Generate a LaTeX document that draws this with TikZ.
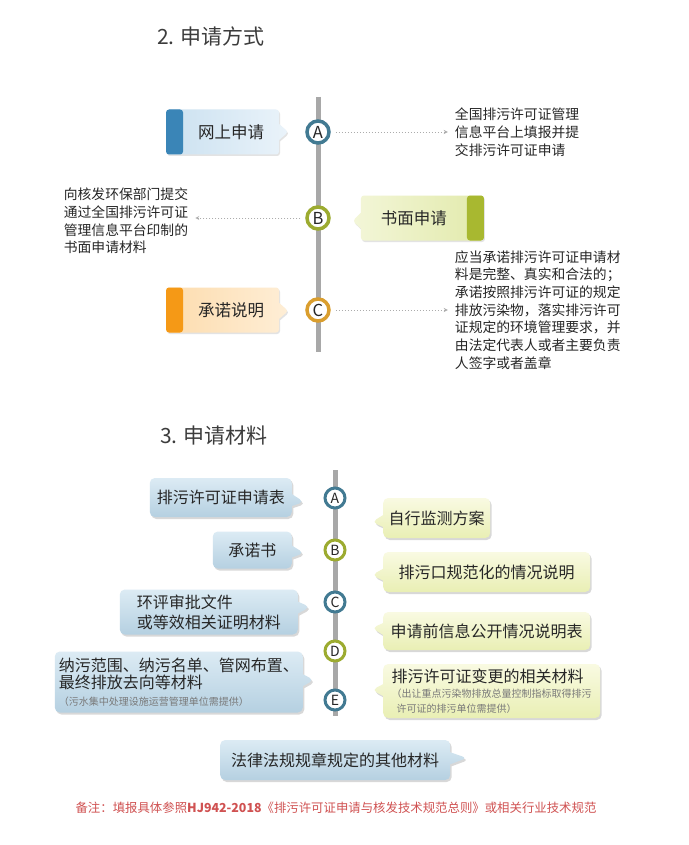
\documentclass[tikz,border=0pt]{standalone}
\usepackage{fontspec}
\setmainfont{Noto Sans CJK SC}
\usetikzlibrary{shapes.callouts, arrows, positioning, calc, shadows}
\definecolor{spinecolor}{RGB}{168,168,168}
\definecolor{tealcolor}{RGB}{66,122,146}
\definecolor{olivecolor}{RGB}{156,171,48}
\definecolor{goldcolor}{RGB}{218,158,46}
\definecolor{stripblue}{RGB}{58,133,183}
\definecolor{stripgreen}{RGB}{168,184,48}
\definecolor{striporange}{RGB}{245,153,22}
\definecolor{wayblueA}{RGB}{203,225,240}
\definecolor{wayblueB}{RGB}{234,243,250}
\definecolor{waygreenA}{RGB}{243,246,216}
\definecolor{waygreenB}{RGB}{226,234,172}
\definecolor{wayorangeA}{RGB}{253,220,174}
\definecolor{wayorangeB}{RGB}{254,238,214}
\definecolor{itemblueA}{RGB}{220,235,244}
\definecolor{itemblueB}{RGB}{181,208,225}
\definecolor{itemgreenA}{RGB}{249,250,226}
\definecolor{itemgreenB}{RGB}{233,239,180}
\definecolor{inkcolor}{RGB}{38,38,38}
\definecolor{remarkcolor}{RGB}{208,82,82}
\newcommand{\smallnote}{\fontsize{10}{13}\selectfont\color{gray!95!black}}

\begin{document}
\begin{tikzpicture}[
    x=1pt, y=-1pt,
    spine/.style={line width=5pt, spinecolor},
    badge/.style={circle, draw, line width=3.5pt, fill=white, minimum size=22pt, inner sep=0pt, text=inkcolor, font=\fontsize{16.5}{16.5}\selectfont},
    smallbadge/.style={badge, line width=3pt, minimum size=20pt, font=\fontsize{14}{14}\selectfont},
    hint/.style={->, >=stealth, draw=gray!65, dash pattern=on 1.5pt off 1.5pt, line width=0.8pt, shorten <=5pt, shorten >=7pt},
    title/.style={anchor=west, inner sep=0pt, text=inkcolor!90, font=\fontsize{21}{21}\selectfont},
    way/.style={rectangle callout, rounded corners=3pt, minimum height=45pt, inner sep=0pt, callout pointer width=16pt, text=inkcolor, font=\fontsize{16.5}{16.5}\selectfont, drop shadow={opacity=0.22, shadow xshift=1pt, shadow yshift=-1.5pt}},
    stripleft/.style={execute at begin node=\hspace*{17pt}, path picture={\fill[#1] (path picture bounding box.north west) rectangle ([xshift=17pt]path picture bounding box.south west);}},
    stripright/.style={execute at end node=\hspace*{17pt}, path picture={\fill[#1] ([xshift=-17pt]path picture bounding box.north east) rectangle (path picture bounding box.south east);}},
    note/.style={align=left, inner sep=0pt, text=inkcolor, font=\fontsize{13.8}{17.7}\selectfont},
    item/.style={rectangle callout, rounded corners=5pt, inner sep=0pt, minimum height=40pt, callout pointer width=12pt, align=left, text=inkcolor, font=\fontsize{16}{20}\selectfont, drop shadow={opacity=0.3, shadow xshift=1.5pt, shadow yshift=-2pt}},
    blueitem/.style={item, top color=itemblueA, bottom color=itemblueB},
    greenitem/.style={item, top color=itemgreenA, bottom color=itemgreenB}
]
    \useasboundingbox[fill=white] (0,0) rectangle (688,845);

    % Section 2: ways of applying
    \node[title] (title2) at (157,36) {2. 申请方式};
    \coordinate (top2) at (318,97);
    \coordinate (bot2) at (318,352);
    \draw[spine] (top2) -- (bot2);
    \node[badge, draw=tealcolor] (a2) at (318,132) {A};
    \node[badge, draw=olivecolor] (b2) at (318,218) {B};
    \node[badge, draw=goldcolor] (c2) at (318,310) {C};

    \node[way, minimum width=113pt, stripleft=stripblue, left color=wayblueA, right color=wayblueB,
        left=26pt of a2, callout absolute pointer={($(a2.west)+(-17,0)$)}] (web) {网上申请};
    \node[way, minimum width=123pt, stripright=stripgreen, left color=waygreenA, right color=waygreenB,
        right=30pt of b2, callout absolute pointer={($(b2.east)+(22,3)$)}] (paper) {书面申请};
    \node[way, minimum width=113pt, stripleft=striporange, left color=wayorangeA, right color=wayorangeB,
        left=26pt of c2, callout absolute pointer={($(c2.west)+(-17,1)$)}] (pledge) {承诺说明};

    % Side notes
    \node[note, right=124pt of a2] (webnote) {全国排污许可证管理\\信息平台上填报并提\\交排污许可证申请};
    \node[note, left=117pt of b2, yshift=-3pt] (papernote) {向核发环保部门提交\\通过全国排污许可证\\管理信息平台印制的\\书面申请材料};
    \node[note, right=124pt of c2] (pledgenote) {应当承诺排污许可证申请材\\料是完整、真实和合法的；\\承诺按照排污许可证的规定\\排放污染物，落实排污许可\\证规定的环境管理要求，并\\由法定代表人或者主要负责\\人签字或者盖章};

    % Arrows
    \draw[hint] (a2.east) -- (a2.east -| webnote.west);
    \draw[hint] (b2.west) -- (b2.west -| papernote.east);
    \draw[hint] (c2.east) -- (c2.east -| pledgenote.west);

    % Section 3: application materials
    \node[title] (title3) at (160,436) {3. 申请材料};
    \coordinate (top3) at (335,470);
    \coordinate (bot3) at (335,716);
    \draw[spine] (top3) -- (bot3);
    \node[smallbadge, draw=tealcolor] (a3) at (335,498) {A};
    \node[smallbadge, draw=olivecolor] (b3) at (335,550) {B};
    \node[smallbadge, draw=tealcolor] (c3) at (335,602) {C};
    \node[smallbadge, draw=olivecolor] (d3) at (335,651) {D};
    \node[smallbadge, draw=tealcolor] (e3) at (335,700) {E};

    % Left column
    \node[blueitem, anchor=east, minimum width=142pt, minimum height=39pt,
        callout absolute pointer={(304,502)}] (form) at (292,497.5) {排污许可证申请表};
    \node[blueitem, anchor=east, minimum width=79pt, minimum height=37pt,
        callout absolute pointer={(304,553)}] (promise) at (292,550) {承诺书};
    \node[blueitem, anchor=east, minimum width=178pt, minimum height=45pt,
        callout absolute pointer={(310,607)}] (eia) at (298,612) {环评审批文件\\或等效相关证明材料};
    \node[blueitem, anchor=east, minimum width=248pt, minimum height=61pt, font=\fontsize{16}{17}\selectfont,
        callout absolute pointer={(314,680)}] (sewage) at (303,682)
        {纳污范围、纳污名单、管网布置、\\最终排放去向等材料\\{\smallnote （污水集中处理设施运营管理单位需提供）}};
    \node[blueitem, anchor=west, minimum width=230pt, minimum height=40pt,
        callout absolute pointer={(467,758)}] (law) at (220,760) {法律法规规章规定的其他材料};

    % Right column
    \node[greenitem, anchor=west, minimum width=107pt,
        callout absolute pointer={(372,522)}] (monitor) at (383,518) {自行监测方案};
    \node[greenitem, anchor=west, minimum width=207pt,
        callout absolute pointer={(372,575)}] (outlet) at (383,572) {排污口规范化的情况说明};
    \node[greenitem, anchor=west, minimum width=207pt, minimum height=38pt,
        callout absolute pointer={(372,628)}] (disclose) at (383,631) {申请前信息公开情况说明表};
    \node[greenitem, anchor=west, minimum width=217pt, minimum height=54pt, font=\fontsize{16}{15}\selectfont,
        callout absolute pointer={(372,690)}] (change) at (383,691)
        {排污许可证变更的相关材料\\{\smallnote （出让重点污染物排放总量控制指标取得排污}\\{\smallnote \hspace*{5pt}许可证的排污单位需提供）}};

    % Remark
    \node[inner sep=0pt, text=remarkcolor, font=\fontsize{12.4}{12.4}\selectfont] (remark) at (336,808)
        {备注：填报具体参照\textbf{HJ942-2018}《排污许可证申请与核发技术规范总则》或相关行业技术规范};
\end{tikzpicture}
\end{document}
